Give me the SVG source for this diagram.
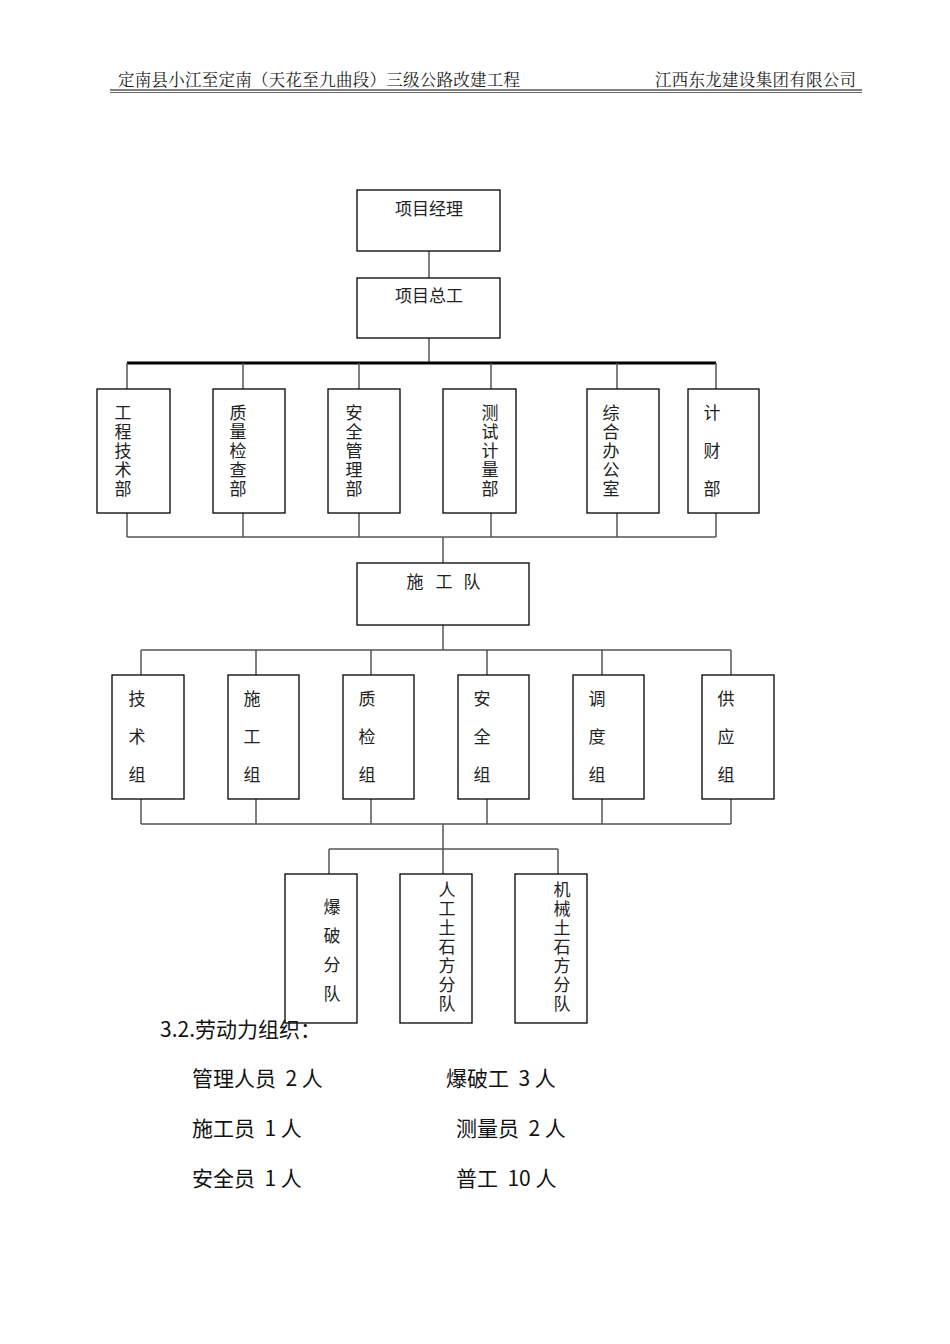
<svg xmlns="http://www.w3.org/2000/svg" width="950" height="1344" viewBox="0 0 950 1344">
<style>
.b{fill:#fff;stroke:#000;stroke-width:1.3}
.c{fill:none;stroke:#555;stroke-width:1.5}
.t{font-family:"Noto Sans CJK SC",serif;font-size:17px;fill:#222;text-anchor:middle;dominant-baseline:central}
.h{font-family:"Noto Serif CJK SC","Noto Sans CJK SC",serif;font-size:16.5px;fill:#222}
.s{font-family:"Noto Sans CJK SC","Noto Sans",sans-serif;font-size:21px;fill:#111;white-space:pre}
</style>
<rect width="950" height="1344" fill="#fff"/>
<g id="header">
<text class="h" x="118" y="86" textLength="402">定南县小江至定南（天花至九曲段）三级公路改建工程</text>
<text class="h" x="655" y="86" textLength="201">江西东龙建设集团有限公司</text>
<line x1="110" y1="90" x2="862" y2="90" stroke="#000" stroke-width="1"/>
<line x1="110" y1="92.5" x2="862" y2="92.5" stroke="#000" stroke-width="0.6"/>
</g>
<g id="connectors">
<path class="c" d="M429 251V278M429 338V363M127 537H716M443 537V563M443 625V650M141 650H731M141 824H731M443 824V849M329 849H558M329 849V874M443 849V874M558 849V874"/>
<path d="M127 363H716" stroke="#000" stroke-width="3" fill="none"/>
<path class="c" d="M127 363V389M243 363V389M359 363V389M491 363V389M617 363V389M716 363V389M127 513V537M243 513V537M359 513V537M491 513V537M617 513V537M716 513V537"/>
<path class="c" d="M141 650V675M256 650V675M371 650V675M487 650V675M602 650V675M731 650V675M141 799V824M256 799V824M371 799V824M487 799V824M602 799V824M731 799V824"/>
</g>
<g id="n1"><rect class="b" x="357" y="190" width="143" height="61"/><text class="t" x="429" y="207">项目经理</text></g>
<g id="n2"><rect class="b" x="357" y="278" width="143" height="60"/><text class="t" x="429" y="294">项目总工</text></g>
<g id="d1"><rect class="b" x="97" y="389" width="73" height="124"/><text class="t"><tspan x="123" y="411">工</tspan><tspan x="123" y="430">程</tspan><tspan x="123" y="449">技</tspan><tspan x="123" y="468">术</tspan><tspan x="123" y="487">部</tspan></text></g>
<g id="d2"><rect class="b" x="213" y="389" width="72" height="124"/><text class="t"><tspan x="238" y="411">质</tspan><tspan x="238" y="430">量</tspan><tspan x="238" y="449">检</tspan><tspan x="238" y="468">查</tspan><tspan x="238" y="487">部</tspan></text></g>
<g id="d3"><rect class="b" x="328" y="389" width="72" height="124"/><text class="t"><tspan x="354" y="411">安</tspan><tspan x="354" y="430">全</tspan><tspan x="354" y="449">管</tspan><tspan x="354" y="468">理</tspan><tspan x="354" y="487">部</tspan></text></g>
<g id="d4"><rect class="b" x="443" y="389" width="73" height="124"/><text class="t"><tspan x="490" y="411">测</tspan><tspan x="490" y="430">试</tspan><tspan x="490" y="449">计</tspan><tspan x="490" y="468">量</tspan><tspan x="490" y="487">部</tspan></text></g>
<g id="d5"><rect class="b" x="587" y="389" width="72" height="124"/><text class="t"><tspan x="611" y="411">综</tspan><tspan x="611" y="430">合</tspan><tspan x="611" y="449">办</tspan><tspan x="611" y="468">公</tspan><tspan x="611" y="487">室</tspan></text></g>
<g id="d6"><rect class="b" x="688" y="389" width="71" height="124"/><text class="t"><tspan x="712" y="411">计</tspan><tspan x="712" y="449">财</tspan><tspan x="712" y="487">部</tspan></text></g>
<g id="team"><rect class="b" x="357" y="563" width="172" height="62"/><text class="t"><tspan x="415" y="580">施</tspan><tspan x="444" y="580">工</tspan><tspan x="472" y="580">队</tspan></text></g>
<g id="g1"><rect class="b" x="112" y="675" width="72" height="124"/><text class="t"><tspan x="137" y="697">技</tspan><tspan x="137" y="735">术</tspan><tspan x="137" y="773">组</tspan></text></g>
<g id="g2"><rect class="b" x="228" y="675" width="71" height="124"/><text class="t"><tspan x="252" y="697">施</tspan><tspan x="252" y="735">工</tspan><tspan x="252" y="773">组</tspan></text></g>
<g id="g3"><rect class="b" x="343" y="675" width="71" height="124"/><text class="t"><tspan x="367" y="697">质</tspan><tspan x="367" y="735">检</tspan><tspan x="367" y="773">组</tspan></text></g>
<g id="g4"><rect class="b" x="458" y="675" width="71" height="124"/><text class="t"><tspan x="482" y="697">安</tspan><tspan x="482" y="735">全</tspan><tspan x="482" y="773">组</tspan></text></g>
<g id="g5"><rect class="b" x="573" y="675" width="71" height="124"/><text class="t"><tspan x="597" y="697">调</tspan><tspan x="597" y="735">度</tspan><tspan x="597" y="773">组</tspan></text></g>
<g id="g6"><rect class="b" x="702" y="675" width="72" height="124"/><text class="t"><tspan x="726" y="697">供</tspan><tspan x="726" y="735">应</tspan><tspan x="726" y="773">组</tspan></text></g>
<g id="s1"><rect class="b" x="285" y="874" width="72" height="149"/><text class="t"><tspan x="332" y="905">爆</tspan><tspan x="332" y="934">破</tspan><tspan x="332" y="963">分</tspan><tspan x="332" y="992">队</tspan></text></g>
<g id="s2"><rect class="b" x="400" y="874" width="72" height="149"/><text class="t"><tspan x="447" y="888">人</tspan><tspan x="447" y="907">工</tspan><tspan x="447" y="926">土</tspan><tspan x="447" y="945">石</tspan><tspan x="447" y="964">方</tspan><tspan x="447" y="983">分</tspan><tspan x="447" y="1002">队</tspan></text></g>
<g id="s3"><rect class="b" x="515" y="874" width="72" height="149"/><text class="t"><tspan x="562" y="888">机</tspan><tspan x="562" y="907">械</tspan><tspan x="562" y="926">土</tspan><tspan x="562" y="945">石</tspan><tspan x="562" y="964">方</tspan><tspan x="562" y="983">分</tspan><tspan x="562" y="1002">队</tspan></text></g>
<g id="labor">
<text class="s" x="160" y="1037">3.2.劳动力组织：</text>
<text class="s" x="192" y="1086">管理人员  2 人</text>
<text class="s" x="446" y="1086">爆破工  3 人</text>
<text class="s" x="192" y="1136">施工员  1 人</text>
<text class="s" x="456" y="1136">测量员  2 人</text>
<text class="s" x="192" y="1186">安全员  1 人</text>
<text class="s" x="456" y="1186">普工  10 人</text>
</g>
</svg>
